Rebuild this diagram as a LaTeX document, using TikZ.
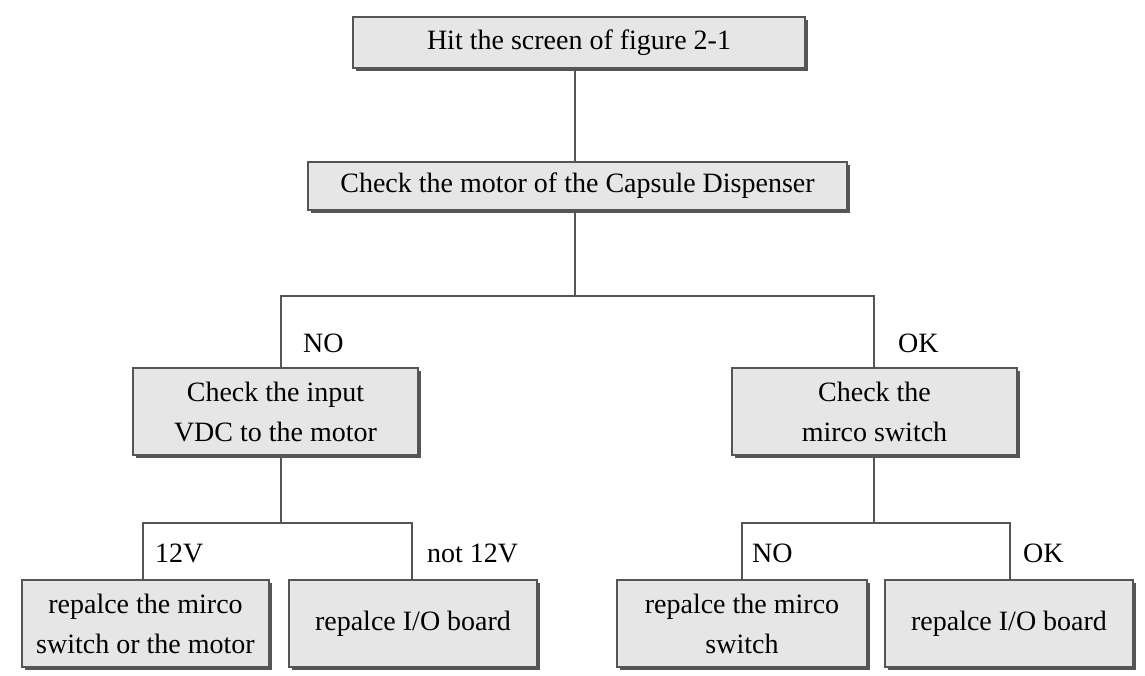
\documentclass[tikz,border=0pt]{standalone}
\usepackage{fontspec}
\setmainfont{Liberation Serif}
\usetikzlibrary{shadows}

\definecolor{boxfill}{HTML}{E6E6E6}
\definecolor{boxline}{HTML}{555555}

\tikzset{
  chartbox/.style={draw=boxline, line width=2pt, fill=boxfill, align=center,
    inner sep=0pt, font=\fontsize{28}{40}\selectfont,
    drop shadow={shadow xshift=3pt, shadow yshift=-3pt, fill=boxline, opacity=1}},
  wire/.style={draw=boxline, line width=1.8pt},
  tag/.style={anchor=west, inner sep=0pt, font=\fontsize{28}{32}\selectfont}
}

\begin{document}
\begin{tikzpicture}[x=1pt, y=-1pt]
        \useasboundingbox (0, 0) rectangle (1145, 675);

        \node[chartbox, minimum width=452pt, minimum height=51pt] (hit) at (579, 42.5) {Hit the screen of figure 2-1};
        \node[chartbox, minimum width=539pt, minimum height=48pt] (motor) at (577.5, 186) {Check the motor of the Capsule Dispenser};

        \node[chartbox, minimum width=285pt, minimum height=87pt] (input) at (275.5, 411.5) {Check the input\\VDC to the motor};
        \node[chartbox, minimum width=285pt, minimum height=87pt] (micro) at (874.5, 411.5) {Check the\\mirco switch};

        \node[chartbox, minimum width=247pt, minimum height=87pt] (fixboth) at (145.5, 623.5) {repalce the mirco\\switch or the motor};
        \node[chartbox, minimum width=248pt, minimum height=87pt] (fixioa) at (413, 623.5) {repalce I/O board};
        \node[chartbox, minimum width=250pt, minimum height=87pt] (fixswitch) at (742, 623.5) {repalce the mirco\\switch};
        \node[chartbox, minimum width=248pt, minimum height=87pt] (fixiob) at (1009, 623.5) {repalce I/O board};

        \node[tag] (no1) at (303, 343) {NO};
        \node[tag] (ok1) at (898, 343) {OK};
        \node[tag] (v12) at (155, 553) {12V};
        \node[tag] (not12) at (427, 553) {not 12V};
        \node[tag] (no2) at (752, 553) {NO};
        \node[tag] (ok2) at (1023, 553) {OK};

        \coordinate (trunk) at (575, 296);
        \coordinate (forkL) at (281, 296);
        \coordinate (forkR) at (874, 296);
        \coordinate (legL) at (143, 523);
        \coordinate (legLL) at (412, 523);
        \coordinate (legR) at (742, 523);
        \coordinate (legRR) at (1010, 523);

        \draw[wire] (trunk |- hit.south) -- (trunk |- motor.north);
        \draw[wire] (trunk |- motor.south) -- (trunk);
        \draw[wire] (forkL |- input.north) -- (forkL) -- (forkR) -- (forkR |- micro.north);

        \draw[wire] (forkL |- input.south) -- (forkL |- legL);
        \draw[wire] (legL |- fixboth.north) -- (legL) -- (legLL) -- (legLL |- fixioa.north);

        \draw[wire] (forkR |- micro.south) -- (forkR |- legR);
        \draw[wire] (legR |- fixswitch.north) -- (legR) -- (legRR) -- (legRR |- fixiob.north);
    \end{tikzpicture}
\end{document}
